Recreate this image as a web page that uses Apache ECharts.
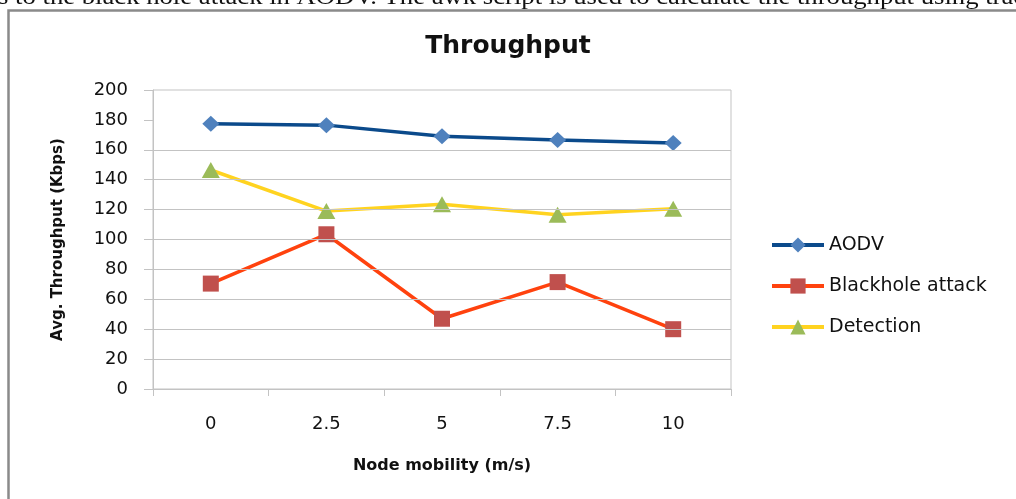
<!DOCTYPE html>
<html>
<head>
    <meta charset="utf-8">
    <style>
        html, body {
            width: 100%;
            height: 100%;
            margin: 0;
            background: #fff;
        }

        #chart-panel {
            width: 1016px;
            height: 499px;
        }
    </style>
    <script src="https://cdn.jsdelivr.net/npm/echarts@6/dist/echarts.min.js"></script>
</head>
<body>
<div id="chart-panel"></div>
<script type="text/javascript">
  // node mobility (m/s)
  var mobility = ['0', '2.5', '5', '7.5', '10']
  // avg. throughput (Kbps)
  var aodv = [177.5, 176.5, 169, 166.5, 164.5]
  var blackhole = [70.5, 103.5, 47, 71.5, 40]
  var detection = [146.5, 119, 123.5, 116.5, 120.5]
  // horizontal grid lines drawn in the original (180 has none)
  var gridValues = [20, 40, 60, 80, 100, 120, 140, 160]

  var font = 'DejaVu Sans'
  var myChart = echarts.init(document.getElementById('chart-panel'))

  var option = {
    animation: false,
    backgroundColor: '#fff',
    textStyle: {fontFamily: font},
    title: {
      text: 'Throughput',
      left: 'center',
      top: 29,
      textStyle: {fontFamily: font, fontSize: 25, fontWeight: 'bold', color: '#111'}
    },
    graphic: [
      {
        type: 'text',
        x: -2,
        y: -14,
        scaleX: 1.16,
        silent: true,
        style: {
          text: 's to the black hole attack in AODV. The awk script is used to calculate the throughput using trace',
          font: '23px "Liberation Serif"',
          fill: '#111'
        }
      },
      {
        type: 'rect',
        silent: true,
        shape: {x: 8.5, y: 10.5, width: 1200, height: 700},
        style: {fill: 'none', stroke: '#8a8a8a', lineWidth: 2.5}
      }
    ],
    legend: {
      orient: 'vertical',
      left: 765,
      top: 230,
      itemWidth: 52,
      itemHeight: 19,
      itemGap: 21,
      lineStyle: {width: 4},
      textStyle: {fontFamily: font, fontSize: 19, color: '#111', lineHeight: 20},
      data: ['AODV', 'Blackhole attack', 'Detection']
    },
    grid: {
      show: true,
      left: 153,
      right: 285,
      top: 90,
      bottom: 110,
      borderColor: '#c3c3c3',
      borderWidth: 1
    },
    xAxis: {
      type: 'category',
      boundaryGap: true,
      data: mobility,
      name: 'Node mobility (m/s)',
      nameLocation: 'middle',
      nameGap: 69,
      nameTextStyle: {fontFamily: font, fontSize: 16, fontWeight: 'bold', color: '#111'},
      axisLine: {lineStyle: {color: '#c3c3c3'}},
      axisTick: {show: true, length: 7, lineStyle: {color: '#c3c3c3'}},
      axisLabel: {fontFamily: font, fontSize: 18, color: '#111', margin: 26}
    },
    yAxis: {
      type: 'value',
      min: 0,
      max: 200,
      interval: 20,
      name: 'Avg. Throughput (Kbps)',
      nameLocation: 'middle',
      nameGap: 87,
      nameTextStyle: {fontFamily: font, fontSize: 15, fontWeight: 'bold', color: '#111'},
      axisLine: {show: true, lineStyle: {color: '#c3c3c3'}},
      axisTick: {show: true, length: 9, lineStyle: {color: '#c3c3c3'}},
      splitLine: {show: false},
      axisLabel: {fontFamily: font, fontSize: 18, color: '#111', margin: 25}
    },
    series: [
      {
        name: 'grid',
        type: 'line',
        data: [],
        z: 1,
        silent: true,
        markLine: {
          silent: true,
          symbol: 'none',
          label: {show: false},
          lineStyle: {color: '#c3c3c3', type: 'solid', width: 1},
          data: gridValues.map(function (v) { return {yAxis: v} })
        }
      },
      {
        name: 'AODV',
        type: 'line',
        z: 3,
        data: aodv,
        symbol: 'diamond',
        symbolSize: [17, 16],
        lineStyle: {color: '#0b4a8b', width: 3.5},
        itemStyle: {color: '#4f81bd'}
      },
      {
        name: 'Blackhole attack',
        type: 'line',
        z: 3,
        data: blackhole,
        symbol: 'rect',
        symbolSize: 16,
        lineStyle: {color: '#ff420e', width: 3.5},
        itemStyle: {color: '#c0504d'}
      },
      {
        name: 'Detection',
        type: 'line',
        z: 3,
        data: detection,
        symbol: 'triangle',
        symbolSize: [18, 16],
        lineStyle: {color: '#ffd320', width: 3.5},
        itemStyle: {color: '#9bbb59'}
      }
    ]
  }

  myChart.setOption(option)
</script>
</body>
</html>
